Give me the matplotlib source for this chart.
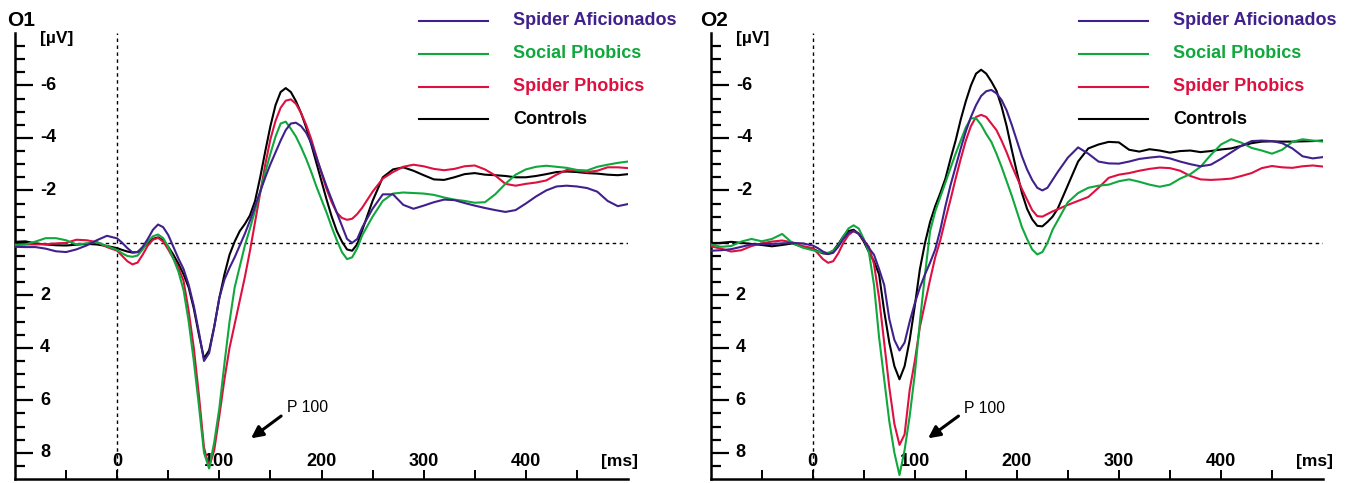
import numpy as np
import matplotlib.pyplot as plt

plt.rcParams['font.family'] = ['Liberation Sans', 'DejaVu Sans']

# sample times (ms)
t = list(range(-100, 0, 10)) + list(range(0, 240, 5)) + list(range(240, 501, 10))

# ---- O1 ----
o1_aficionados = [0.15, 0.16, 0.16, 0.22, 0.32, 0.35, 0.25, 0.10, -0.10, -0.27,
                  -0.17, 0.00, 0.20, 0.36, 0.35, 0.15, -0.15, -0.50, -0.70, -0.60,
                  -0.30, 0.15, 0.60, 1.00, 1.60, 2.40, 3.40, 4.50, 4.20, 3.20,
                  2.10, 1.40, 0.95, 0.55, 0.10, -0.35, -0.85, -1.40, -1.95, -2.50,
                  -3.00, -3.45, -3.90, -4.30, -4.55, -4.58, -4.45, -4.20, -3.80, -3.25,
                  -2.70, -2.15, -1.65, -1.15, -0.65, -0.15, 0.00, -0.15,
                  -0.60, -1.30, -1.85, -1.85, -1.45, -1.30, -1.42, -1.55, -1.65, -1.63,
                  -1.52, -1.42, -1.33, -1.25, -1.18, -1.25, -1.50, -1.77, -2.00, -2.15,
                  -2.18, -2.15, -2.09, -1.95, -1.60, -1.40, -1.48]
o1_social = [0.09, 0.06, -0.05, -0.18, -0.18, -0.10, 0.06, 0.02, -0.03, 0.12,
             0.27, 0.40, 0.50, 0.53, 0.48, 0.25, -0.05, -0.25, -0.32, -0.18,
             0.15, 0.60, 1.10, 1.80, 3.00, 4.50, 6.20, 8.00, 8.60, 7.60,
             6.30, 4.60, 3.00, 1.70, 0.90, 0.10, -0.55, -1.25, -1.95, -2.70,
             -3.40, -4.05, -4.55, -4.62, -4.35, -4.05, -3.65, -3.20, -2.70, -2.15,
             -1.65, -1.15, -0.60, -0.10, 0.35, 0.62, 0.55, 0.20,
             -0.30, -1.00, -1.60, -1.88, -1.92, -1.90, -1.88, -1.83, -1.73, -1.65,
             -1.60, -1.53, -1.55, -1.85, -2.25, -2.60, -2.80, -2.90, -2.94, -2.90,
             -2.86, -2.78, -2.76, -2.90, -2.98, -3.05, -3.10]
o1_spider_phobics = [0.06, 0.06, 0.06, 0.05, 0.02, 0.00, -0.12, -0.10, -0.03, 0.16,
                     0.30, 0.50, 0.70, 0.82, 0.75, 0.45, 0.10, -0.12, -0.19, -0.05,
                     0.25, 0.60, 0.95, 1.45, 2.60, 4.00, 5.80, 7.80, 8.55, 7.90,
                     6.60, 5.20, 4.00, 3.10, 2.20, 1.30, 0.30, -0.80, -1.90, -3.00,
                     -3.95, -4.65, -5.15, -5.42, -5.47, -5.30, -4.95, -4.50, -3.95, -3.30,
                     -2.65, -2.05, -1.55, -1.15, -0.95, -0.88, -0.92, -1.10,
                     -1.35, -1.95, -2.45, -2.70, -2.90, -2.98, -2.92, -2.82, -2.77, -2.82,
                     -2.92, -2.95, -2.80, -2.57, -2.25, -2.18, -2.25, -2.30, -2.38, -2.60,
                     -2.78, -2.75, -2.70, -2.75, -2.88, -2.88, -2.85]
o1_controls = [-0.04, -0.06, 0.02, 0.06, 0.09, 0.10, 0.07, 0.04, 0.06, 0.12,
               0.20, 0.27, 0.33, 0.37, 0.35, 0.20, 0.02, -0.15, -0.21, -0.10,
               0.15, 0.45, 0.80, 1.20, 1.70, 2.50, 3.50, 4.40, 4.10, 3.20,
               2.10, 1.20, 0.45, -0.05, -0.45, -0.72, -1.05, -1.60, -2.50, -3.50,
               -4.45, -5.25, -5.75, -5.90, -5.75, -5.40, -4.95, -4.40, -3.75, -3.05,
               -2.35, -1.65, -1.00, -0.45, -0.05, 0.25, 0.30, 0.05,
               -0.50, -1.60, -2.50, -2.80, -2.88, -2.75, -2.58, -2.42, -2.40, -2.50,
               -2.62, -2.66, -2.60, -2.58, -2.55, -2.50, -2.50, -2.55, -2.62, -2.70,
               -2.72, -2.70, -2.66, -2.64, -2.60, -2.58, -2.62]

# ---- O2 ----
o2_aficionados = [0.30, 0.28, 0.24, 0.15, 0.06, 0.04, 0.04, 0.02, 0.00, 0.02,
                  0.10, 0.20, 0.33, 0.43, 0.38, 0.15, -0.15, -0.38, -0.45, -0.35,
                  -0.10, 0.20, 0.45, 1.00, 1.60, 2.90, 3.70, 4.10, 3.80, 3.00,
                  2.30, 1.70, 1.20, 0.75, 0.25, -0.50, -1.40, -2.20, -2.90, -3.60,
                  -4.25, -4.80, -5.25, -5.60, -5.78, -5.83, -5.70, -5.45, -5.05, -4.50,
                  -3.90, -3.30, -2.80, -2.40, -2.10, -2.00, -2.10, -2.40,
                  -2.70, -3.25, -3.64, -3.40, -3.10, -3.03, -3.02, -3.10, -3.20, -3.25,
                  -3.29, -3.22, -3.10, -3.00, -2.92, -2.98, -3.20, -3.45, -3.70, -3.88,
                  -3.90, -3.88, -3.80, -3.60, -3.30, -3.22, -3.27]
o2_social = [0.06, 0.15, 0.12, -0.05, -0.15, -0.06, -0.15, -0.34, 0.00, 0.18,
             0.28, 0.33, 0.37, 0.38, 0.30, 0.10, -0.25, -0.55, -0.67, -0.55,
             -0.15, 0.35, 1.60, 3.60, 5.20, 6.80, 8.00, 8.85, 7.90, 6.60,
             5.00, 3.00, 1.20, -0.45, -1.20, -1.75, -2.30, -2.85, -3.40, -3.90,
             -4.40, -4.75, -4.75, -4.50, -4.15, -3.85, -3.40, -2.90, -2.35, -1.80,
             -1.20, -0.60, -0.15, 0.25, 0.44, 0.35, 0.00, -0.50,
             -0.85, -1.55, -1.90, -2.10, -2.18, -2.22, -2.35, -2.42, -2.33, -2.22,
             -2.14, -2.22, -2.45, -2.62, -2.90, -3.35, -3.75, -3.95, -3.82, -3.62,
             -3.52, -3.40, -3.55, -3.85, -3.95, -3.90, -3.86]
o2_spider_phobics = [0.13, 0.22, 0.33, 0.28, 0.12, 0.02, -0.05, -0.09, -0.02, 0.12,
                     0.20, 0.40, 0.62, 0.76, 0.70, 0.40, 0.00, -0.30, -0.45, -0.35,
                     -0.10, 0.15, 0.80, 2.10, 3.80, 5.50, 6.90, 7.70, 7.30, 5.60,
                     4.50, 3.20, 2.30, 1.40, 0.55, -0.10, -0.90, -1.65, -2.45, -3.20,
                     -3.90, -4.45, -4.80, -4.88, -4.80, -4.55, -4.30, -3.90, -3.45, -2.95,
                     -2.50, -2.05, -1.65, -1.25, -1.02, -1.00, -1.10, -1.20,
                     -1.28, -1.45, -1.60, -1.75, -2.10, -2.48, -2.60, -2.66, -2.75, -2.82,
                     -2.87, -2.85, -2.75, -2.55, -2.42, -2.40, -2.42, -2.45, -2.55, -2.66,
                     -2.85, -2.93, -2.88, -2.86, -2.92, -2.95, -2.91]
o2_controls = [0.04, 0.00, -0.04, 0.00, 0.04, 0.08, 0.13, 0.08, 0.02, 0.15,
               0.22, 0.32, 0.40, 0.42, 0.30, 0.05, -0.25, -0.45, -0.50, -0.35,
               -0.05, 0.35, 0.70, 1.20, 2.60, 3.80, 4.70, 5.20, 4.70, 3.70,
               2.40, 1.00, 0.00, -0.80, -1.40, -1.90, -2.45, -3.20, -3.90, -4.70,
               -5.40, -6.00, -6.45, -6.60, -6.45, -6.15, -5.80, -5.20, -4.45, -3.55,
               -2.70, -1.90, -1.30, -0.90, -0.65, -0.63, -0.80, -1.00,
               -1.30, -2.20, -3.10, -3.60, -3.75, -3.85, -3.83, -3.55, -3.48, -3.57,
               -3.52, -3.44, -3.50, -3.52, -3.46, -3.50, -3.56, -3.60, -3.70, -3.80,
               -3.86, -3.87, -3.86, -3.86, -3.87, -3.88, -3.90]

groups = ['Spider Aficionados', 'Social Phobics', 'Spider Phobics', 'Controls']
colors = ['#40208c', '#10a83c', '#de1040', '#000000']

ytick_major = [-6, -4, -2, 0, 2, 4, 6, 8]
ytick_labels = [-6, -4, -2, 2, 4, 6, 8]
ytick_minor = np.arange(-7.5, 9, 0.5)
xtick_pos = list(range(-50, 500, 50))
xtick_labels = [0, 100, 200, 300, 400]


def draw_panel(ax, name, data, arrow_head, arrow_tail, text_pos, leg_line, leg_text):
    # drawing order: controls at the back, aficionados on top
    for i in [3, 2, 1, 0]:
        ax.plot(t, data[i], color=colors[i], lw=1.5, zorder=3 + (3 - i))
    ax.set_xlim(-100, 500)
    ax.set_ylim(9, -8)
    ax.axhline(0, color='black', lw=1, ls=(0, (2.5, 2.5)), zorder=1)
    ax.axvline(0, color='black', lw=1, ls=(0, (2.5, 2.5)), zorder=1)

    for s in ['top', 'right']:
        ax.spines[s].set_visible(False)
    for s in ['left', 'bottom']:
        ax.spines[s].set_linewidth(1.8)

    ax.set_yticks(ytick_major)
    ax.set_yticks([v for v in ytick_minor if v not in ytick_major], minor=True)
    ax.tick_params(axis='y', which='major', direction='in', length=13, width=1.6, labelleft=False)
    ax.tick_params(axis='y', which='minor', direction='in', length=7.5, width=1.6)
    ax.set_xticks(xtick_pos)
    ax.tick_params(axis='x', direction='in', length=6.5, width=1.4, labelbottom=False)

    ytr = ax.get_yaxis_transform()
    for v in ytick_labels:
        ax.text(0.041, v, str(v), transform=ytr, ha='left', va='center',
                fontsize=13, fontweight='bold')
    ax.text(0.041, -7.8, '[\u00b5V]', transform=ytr, ha='left', va='center',
            fontsize=12.5, fontweight='bold')

    xtr = ax.get_xaxis_transform()
    for v in xtick_labels:
        ax.text(v, 0.039, str(v), transform=xtr, ha='center', va='center',
                fontsize=13, fontweight='bold')
    ax.text(492, 0.039, '[ms]', transform=xtr, ha='center', va='center',
            fontsize=12.5, fontweight='bold')

    ax.annotate('', xy=arrow_head, xytext=arrow_tail,
                arrowprops=dict(arrowstyle='-|>,head_length=0.7,head_width=0.35',
                                color='black', lw=2.2, shrinkA=0, shrinkB=0))
    ax.text(text_pos[0], text_pos[1], 'P 100', ha='left', va='center', fontsize=11.3)

    leg_y = [1.027, 0.953, 0.879, 0.807]
    for i, g in enumerate(groups):
        ax.plot(leg_line, [leg_y[i], leg_y[i]], color=colors[i], lw=1.5,
                transform=ax.transAxes, clip_on=False)
        ax.text(leg_text, leg_y[i], g, color=colors[i], transform=ax.transAxes,
                ha='left', va='center', fontsize=13, fontweight='bold')


fig = plt.figure(figsize=(13.49, 4.83), dpi=100)
ax1 = fig.add_axes([15 / 1349, 4 / 483, 613 / 1349, 446 / 483])
ax2 = fig.add_axes([710.7 / 1349, 4 / 483, 612.3 / 1349, 446 / 483])

draw_panel(ax1, 'O1', [o1_aficionados, o1_social, o1_spider_phobics, o1_controls],
           (131, 7.45), (160.5, 6.6), (166, 6.27), [0.659, 0.772], 0.8124)
draw_panel(ax2, 'O2', [o2_aficionados, o2_social, o2_spider_phobics, o2_controls],
           (113, 7.45), (142.8, 6.6), (148, 6.3), [0.6015, 0.714], 0.755)

fig.text(7 / 1349, 1 - 20.5 / 483, 'O1', ha='left', va='center', fontsize=15, fontweight='bold')
fig.text(700 / 1349, 1 - 20.5 / 483, 'O2', ha='left', va='center', fontsize=15, fontweight='bold')

fig.savefig('out.png', dpi=100)
